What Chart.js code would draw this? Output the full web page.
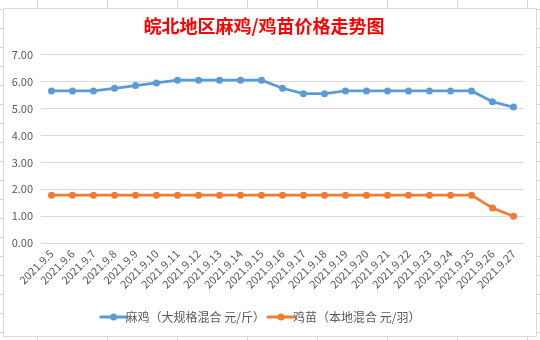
<!DOCTYPE html>
<html>
<head>
<meta charset="utf-8">
<script src="https://cdn.jsdelivr.net/npm/chart.js@4/dist/chart.umd.min.js"></script>
<style>
  html, body { margin: 0; padding: 0; }
  body {
    width: 540px; height: 340px; overflow: hidden; position: relative;
    background-color: #ffffff;
    background-image:
      linear-gradient(#d3d5de 1px, transparent 1px),
      linear-gradient(90deg, #d3d5de 1px, transparent 1px);
    background-size: 70px 19px;
    background-position: 37px 9px;
  }
  #box {
    position: absolute; left: 3px; top: 8px; width: 532px; height: 327px;
    background: #ffffff; border: 1px solid #d9d9d9;
  }
  canvas { display: block; }
</style>
</head>
<body>
<div id="box"><canvas id="c" width="532" height="327"></canvas></div>
<script>
const categories = ["2021.9.5","2021.9.6","2021.9.7","2021.9.8","2021.9.9","2021.9.10","2021.9.11","2021.9.12","2021.9.13","2021.9.14","2021.9.15","2021.9.16","2021.9.17","2021.9.18","2021.9.19","2021.9.20","2021.9.21","2021.9.22","2021.9.23","2021.9.24","2021.9.25","2021.9.26","2021.9.27"];
const maJi = [5.65,5.65,5.65,5.75,5.85,5.95,6.05,6.05,6.05,6.05,6.05,5.75,5.55,5.55,5.65,5.65,5.65,5.65,5.65,5.65,5.65,5.25,5.05];
const jiMiao = [1.78,1.78,1.78,1.78,1.78,1.78,1.78,1.78,1.78,1.78,1.78,1.78,1.78,1.78,1.78,1.78,1.78,1.78,1.78,1.78,1.78,1.3,1.0];
const seriesNames = ["麻鸡（大规格混合 元/斤）", "鸡苗（本地混合 元/羽）"];
const titleText = "皖北地区麻鸡/鸡苗价格走势图";

const BLUE = "#5B9BD5", ORANGE = "#ED7D31", TXT = "#595959";

function legendIcon(color) {
  const c = document.createElement("canvas");
  c.width = 30; c.height = 10;
  const g = c.getContext("2d");
  g.strokeStyle = color; g.lineWidth = 3; g.lineCap = "round";
  g.beginPath(); g.moveTo(2, 5); g.lineTo(28, 5); g.stroke();
  g.fillStyle = color;
  g.beginPath(); g.arc(15, 5, 3.5, 0, Math.PI * 2); g.fill();
  return c;
}

const FONT = "'Microsoft YaHei', 'Noto Sans CJK SC', sans-serif";

new Chart(document.getElementById("c"), {
  type: "line",
  data: {
    labels: categories,
    datasets: [
      { label: seriesNames[0], data: maJi, borderColor: BLUE, backgroundColor: BLUE,
        borderWidth: 2.75, pointRadius: 3.5, pointBackgroundColor: BLUE, pointBorderWidth: 0, tension: 0 },
      { label: seriesNames[1], data: jiMiao, borderColor: ORANGE, backgroundColor: ORANGE,
        borderWidth: 2.75, pointRadius: 3.5, pointBackgroundColor: ORANGE, pointBorderWidth: 0, tension: 0 }
    ]
  },
  options: {
    responsive: false,
    animation: false,
    layout: { padding: { left: 0, right: 12, top: 0, bottom: 3 } },
    plugins: {
      title: {
        display: true, text: titleText, color: "#FF0000",
        font: { family: FONT, size: 18, weight: "bold" },
        padding: { top: 6, bottom: 18 }
      },
      legend: {
        position: "bottom",
        labels: {
          color: TXT, font: { family: FONT, size: 12 }, usePointStyle: true, boxHeight: 10, boxWidth: 30,
          padding: 10,
          generateLabels(chart) {
            return chart.data.datasets.map((d, i) => ({
              text: d.label, fontColor: TXT, pointStyle: legendIcon(d.borderColor),
              datasetIndex: i, hidden: false, lineWidth: 0, strokeStyle: d.borderColor, fillStyle: d.borderColor
            }));
          }
        }
      },
      tooltip: { enabled: false }
    },
    scales: {
      x: {
        offset: true,
        grid: { display: false, drawTicks: false },
        border: { display: false },
        ticks: { color: TXT, font: { family: FONT, size: 11 }, minRotation: 45, maxRotation: 45, autoSkip: false, padding: 4 },
        afterFit(s) { s.height = s.height + 6; }
      },
      y: {
        min: 0, max: 7,
        ticks: { stepSize: 1, color: TXT, font: { family: FONT, size: 11 }, padding: 8,
          callback: v => Number(v).toFixed(2) },
        grid: { color: "#d9d9d9", drawTicks: false },
        border: { display: false },
        afterFit(s) { s.width = 37; }
      }
    }
  }
});
</script>
</body>
</html>
